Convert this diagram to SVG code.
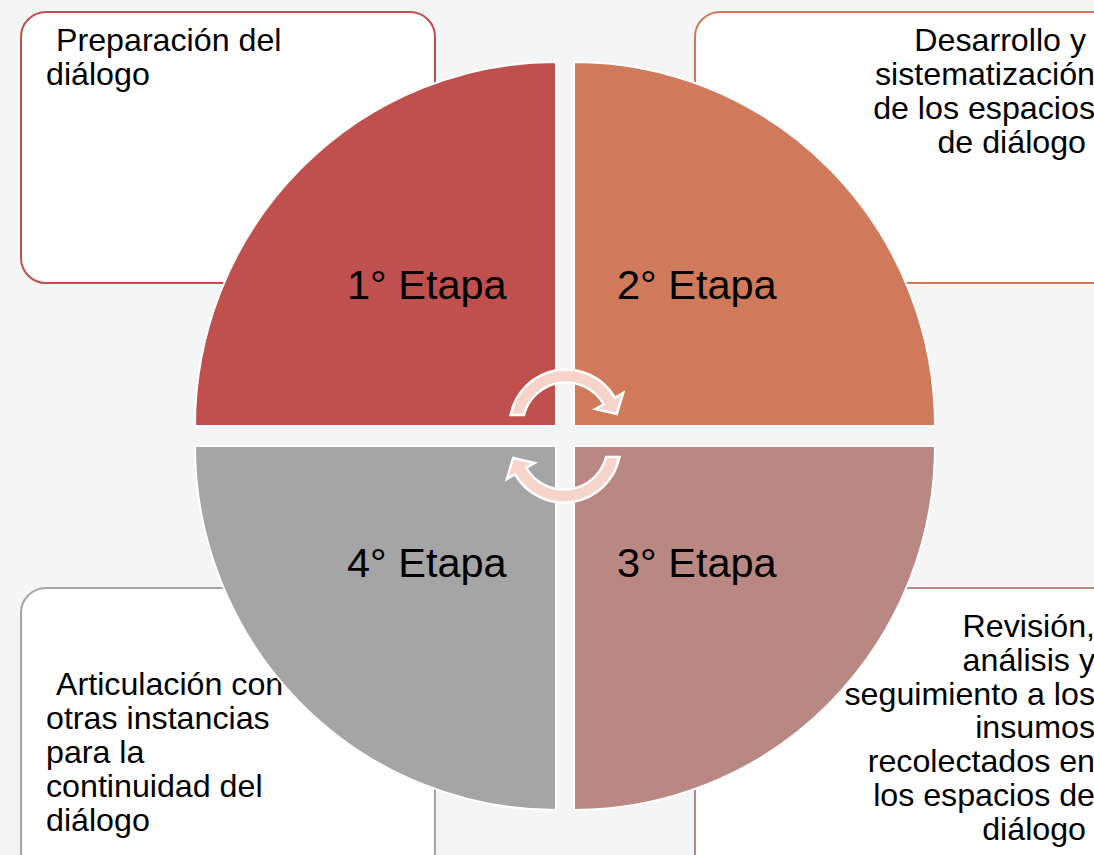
<svg xmlns="http://www.w3.org/2000/svg" width="1094" height="855" viewBox="0 0 1094 855">
<style>
.box{fill:#ffffff;stroke-width:2}
.slice{stroke:#ffffff;stroke-width:2}
.lbl{font-family:"Liberation Sans",Arial,sans-serif;font-size:41.5px;fill:#000}
.txt{font-family:"Liberation Sans",Arial,sans-serif;font-size:32.2px;fill:#000}
.arr{fill:#f6d4ca;stroke:#ffffff;stroke-width:2.5;stroke-linejoin:miter}
</style>
<rect width="1094" height="855" fill="#f5f5f5"/>
<g id="box1"><rect class="box" x="21" y="12" width="414" height="271" rx="25" stroke="#c0504d"/>
<text class="txt"><tspan x="56" y="51">Preparación del</tspan><tspan x="46" y="85">diálogo</tspan></text></g>
<g id="box2"><rect class="box" x="695" y="12" width="430" height="271" rx="25" stroke="#d07a5a"/>
<text class="txt" text-anchor="end"><tspan x="1086" y="51">Desarrollo y</tspan><tspan x="1095" y="85">sistematización</tspan><tspan x="1095" y="119">de los espacios</tspan><tspan x="1086" y="153">de diálogo</tspan></text></g>
<g id="box4"><rect class="box" x="21" y="588" width="414" height="300" rx="25" stroke="#a6a6a6"/>
<text class="txt"><tspan x="56" y="695">Articulación con</tspan><tspan x="46" y="729">otras instancias</tspan><tspan x="46" y="763">para la</tspan><tspan x="46" y="797">continuidad del</tspan><tspan x="46" y="831">diálogo</tspan></text></g>
<g id="box3"><rect class="box" x="695" y="588" width="430" height="300" rx="25" stroke="#b98881"/>
<text class="txt" text-anchor="end"><tspan x="1095" y="637">Revisión,</tspan><tspan x="1095" y="671">análisis y</tspan><tspan x="1095" y="705">seguimiento a los</tspan><tspan x="1095" y="738">insumos</tspan><tspan x="1095" y="772">recolectados en</tspan><tspan x="1095" y="806">los espacios de</tspan><tspan x="1086" y="840">diálogo</tspan></text></g>
<g id="stage1"><path class="slice" fill="#c0504e" d="M556 426 L195 426 A361 364 0 0 1 556 62 Z"/><text class="lbl" x="347" y="299">1° Etapa</text></g>
<g id="stage2"><path class="slice" fill="#d0795b" d="M574 426 L574 62 A361 364 0 0 1 935 426 Z"/><text class="lbl" x="617" y="299">2° Etapa</text></g>
<g id="stage3"><path class="slice" fill="#b98882" d="M574 446 L935 446 A361 364 0 0 1 574 810 Z"/><text class="lbl" x="617" y="577">3° Etapa</text></g>
<g id="stage4"><path class="slice" fill="#a5a5a5" d="M556 446 L556 810 A361 364 0 0 1 195 446 Z"/><text class="lbl" x="347" y="577">4° Etapa</text></g>
<g id="connectors">
<path id="arrowTop" class="arr" d="M510.6 415 A56.5 56.5 0 0 1 614.9 397.75 L623.2 393 L616.8 414 L595.4 409 L603.7 404.25 A43.5 43.5 0 0 0 523.9 415 Z"/>
<path id="arrowBottom" class="arr" transform="rotate(180 565 436)" d="M510.6 415 A56.5 56.5 0 0 1 614.9 397.75 L623.2 393 L616.8 414 L595.4 409 L603.7 404.25 A43.5 43.5 0 0 0 523.9 415 Z"/>
</g>
</svg>
